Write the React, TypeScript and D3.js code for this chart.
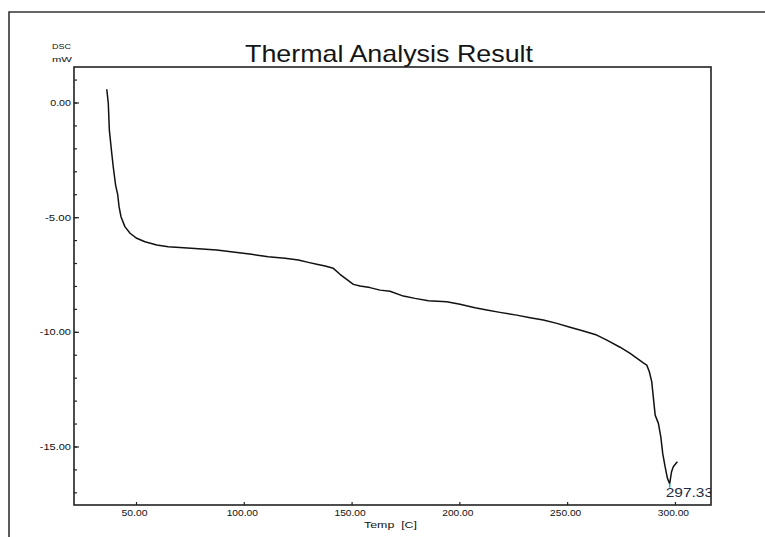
import React from "react";
import * as d3 from "d3";

// DSC heat-flow trace: temperature (°C) and signal (mW)
const temps = [
  36.2, 36.9, 37.4, 38.5, 39.2, 40.3, 41.3, 41.9, 42.8, 44.6, 47.0, 50.1, 53.9, 59.4, 64.7,
  77.1, 87.2, 95.7, 103.4, 111.1, 118.9, 125.1, 129.7, 133.6, 137.5, 141.3, 144.4, 147.5,
  150.6, 153.7, 158.3, 163.0, 167.6, 173.8, 179.2, 185.4, 193.9, 200.1, 207.0, 212.5, 218.6,
  226.4, 232.6, 238.7, 245.0, 251.1, 257.3, 263.5, 268.2, 274.3, 279.0, 285.1, 286.7, 287.9,
  289.0, 289.8, 290.6, 292.1, 293.2, 294.1, 295.2, 296.3, 297.33, 298.2, 299.0, 300.3, 300.9,
];
const dsc = [
  0.6, 0.0, -1.18, -2.18, -2.78, -3.58, -4.01, -4.52, -4.96, -5.39, -5.68, -5.9, -6.05, -6.19, -6.27,
  -6.34, -6.41, -6.51, -6.6, -6.7, -6.77, -6.85, -6.95, -7.03, -7.11, -7.21, -7.47, -7.69,
  -7.91, -7.98, -8.05, -8.16, -8.21, -8.42, -8.52, -8.62, -8.67, -8.78, -8.93, -9.03, -9.13,
  -9.25, -9.36, -9.46, -9.61, -9.78, -9.94, -10.12, -10.34, -10.65, -10.92, -11.33, -11.43, -11.72,
  -12.15, -12.88, -13.61, -13.97, -14.55, -15.28, -15.86, -16.37, -16.6, -16.08, -15.86, -15.71, -15.64,
];

const xTicks = [50, 100, 150, 200, 250, 300];
const yMajorTicks = [0, -5, -10, -15];
const yMinorTicks = [1, 0, -1, -2, -3, -4, -5, -6, -7, -8, -9, -10, -11, -12, -13, -14, -15, -16, -17];

const peakTemp = 297.33;
const peakValue = -16.6;
const peakLabel = "297.330";

const title = "Thermal Analysis Result";
const xTitle = "Temp  [C]";
const yTitle = ["DSC", "mW"];

const W = 765;
const H = 537;
const plot = { left: 74, top: 67, right: 711, bottom: 505 };
const font = "Arial, 'Liberation Sans', sans-serif";

export default function App() {
  const x = d3.scaleLinear().domain([21.0, 316.5]).range([plot.left, plot.right]);
  const y = d3.scaleLinear().domain([1.57, -17.53]).range([plot.top, plot.bottom]);

  const pts: [number, number][] = temps.map((t, i) => [t, dsc[i]]);
  const line = d3
    .line<[number, number]>()
    .x((d) => x(d[0]))
    .y((d) => y(d[1]));

  // plain ASCII hyphen for negatives
  const fmt = (v: number) => d3.format(".2f")(v).replace("\u2212", "-");
  const tickLen = (s: string) => s.length * 5.2;

  const px = x(peakTemp);
  const py = y(peakValue);

  return (
    <svg
      width={W}
      height={H}
      style={{ position: "absolute", left: 0, top: 0, background: "#fff" }}
      fontFamily={font}
    >
      <defs>
        <clipPath id="plot-clip">
          <rect x={plot.left} y={plot.top} width={plot.right - plot.left} height={plot.bottom - plot.top} />
        </clipPath>
      </defs>

      {/* outer frame */}
      <path d={`M9,${H} L9,12 L${W},12`} fill="none" stroke="#333" strokeWidth={1.6} />

      {/* title */}
      <text
        x={245}
        y={61.5}
        fontSize={24}
        fill="#151515"
        textLength={288}
        lengthAdjust="spacingAndGlyphs"
      >
        {title}
      </text>

      {/* y-axis title */}
      <text x={52} y={49} fontSize={8} fill="#111" textLength={19} lengthAdjust="spacingAndGlyphs">
        {yTitle[0]}
      </text>
      <text x={52} y={62} fontSize={8} fill="#111" textLength={20} lengthAdjust="spacingAndGlyphs">
        {yTitle[1]}
      </text>

      {/* y ticks */}
      {yMinorTicks.map((v) => (
        <line key={`ym${v}`} x1={plot.left} x2={plot.left + 3} y1={y(v)} y2={y(v)} stroke="#222" strokeWidth={1.2} />
      ))}
      {yMajorTicks.map((v) => {
        const s = fmt(v);
        return (
          <g key={`yM${v}`}>
            <line x1={plot.left} x2={plot.left + 5} y1={y(v)} y2={y(v)} stroke="#222" strokeWidth={1.2} />
            <text
              x={71}
              y={y(v) + 3}
              fontSize={8.5}
              fill="#111"
              textAnchor="end"
              textLength={tickLen(s)}
              lengthAdjust="spacingAndGlyphs"
            >
              {s}
            </text>
          </g>
        );
      })}

      {/* x ticks */}
      {xTicks.map((t) => {
        const s = fmt(t);
        return (
          <g key={`x${t}`}>
            <line x1={x(t)} x2={x(t)} y1={plot.bottom} y2={plot.bottom - 3} stroke="#222" strokeWidth={1.2} />
            <text
              x={x(t) - 2}
              y={515.5}
              fontSize={8.5}
              fill="#111"
              textAnchor="middle"
              textLength={tickLen(s)}
              lengthAdjust="spacingAndGlyphs"
            >
              {s}
            </text>
          </g>
        );
      })}

      {/* x-axis title */}
      <text x={364} y={527.5} fontSize={8.5} fill="#111" textLength={53} lengthAdjust="spacingAndGlyphs" xmlSpace="preserve">
        {xTitle}
      </text>

      {/* curve */}
      <path d={line(pts) || ""} fill="none" stroke="#111" strokeWidth={1.5} strokeLinejoin="round" />

      {/* peak marker and label */}
      <line x1={px} x2={px} y1={py} y2={py + 4} stroke="#00bfbf" strokeWidth={1.5} />
      <g clipPath="url(#plot-clip)">
        <text
          x={px - 4}
          y={497}
          fontSize={13}
          fill="#1d2b44"
          textLength={56}
          lengthAdjust="spacingAndGlyphs"
        >
          {peakLabel}
        </text>
      </g>

      {/* plot frame */}
      <rect
        x={plot.left}
        y={plot.top}
        width={plot.right - plot.left}
        height={plot.bottom - plot.top}
        fill="none"
        stroke="#222"
        strokeWidth={1.6}
      />
    </svg>
  );
}
